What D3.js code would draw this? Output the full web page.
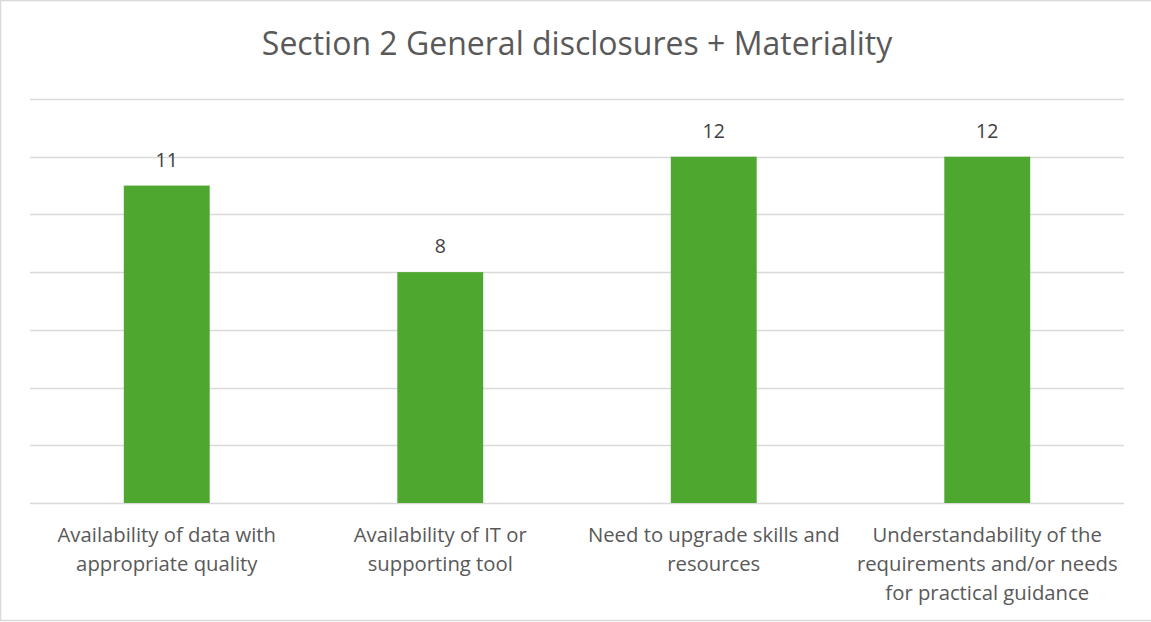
<!DOCTYPE html>
<html>
<head>
<meta charset="utf-8">
<script src="https://cdn.jsdelivr.net/npm/d3@7"></script>
<style>
  html, body { margin: 0; padding: 0; background: #fff; }
  svg { display: block; }
</style>
</head>
<body>
<svg id="chart" width="1151" height="622"></svg>
<script>
// Chart data
const title = "Section 2 General disclosures + Materiality";
const categories = [
  "Availability of data with appropriate quality",
  "Availability of IT or supporting tool",
  "Need to upgrade skills and resources",
  "Understandability of the requirements and/or needs for practical guidance"
];
const values = [11, 8, 12, 12];
const gridTicks = [0, 2, 4, 6, 8, 10, 12, 14];

const W = 1151, H = 622;
const margin = { left: 30, right: 27, top: 99, bottom: 119 };
const font = "'Open Sans', sans-serif";

const svg = d3.select("#chart");

// chart frame
svg.append("rect")
  .attr("x", 0.5).attr("y", 0.5)
  .attr("width", W + 5).attr("height", H - 2)
  .attr("fill", "#fff")
  .attr("stroke", "#d9d9d9").attr("stroke-width", 1.5);

const x = d3.scaleBand()
  .domain(categories)
  .range([margin.left, W - margin.right])
  .paddingInner(0.686)
  .paddingOuter(0.343);

const y = d3.scaleLinear()
  .domain([0, 14])
  .range([H - margin.bottom, margin.top]);

// horizontal gridlines
svg.append("g")
  .selectAll("line")
  .data(gridTicks)
  .join("line")
  .attr("x1", margin.left)
  .attr("x2", W - margin.right)
  .attr("y1", d => Math.round(y(d)) + 0.5)
  .attr("y2", d => Math.round(y(d)) + 0.5)
  .attr("stroke", "#d9d9d9")
  .attr("stroke-width", 1.5);

// bars
svg.append("g")
  .selectAll("rect")
  .data(values)
  .join("rect")
  .attr("x", (d, i) => x(categories[i]))
  .attr("width", x.bandwidth())
  .attr("y", d => y(d))
  .attr("height", d => y(0) - y(d))
  .attr("fill", "#4ea72e");

// value labels
svg.append("g")
  .selectAll("text")
  .data(values)
  .join("text")
  .attr("x", (d, i) => x(categories[i]) + x.bandwidth() / 2)
  .attr("y", d => y(d) - 19)
  .attr("text-anchor", "middle")
  .attr("font-family", font)
  .attr("font-size", 19.5)
  .attr("fill", "#404040")
  .text(d => d);

// category axis labels, wrapped to the band step
const axis = svg.append("g")
  .attr("transform", `translate(0,${y(0)})`)
  .call(d3.axisBottom(x).tickSize(0).tickPadding(0));
axis.select(".domain").remove();
axis.selectAll("text")
  .attr("font-family", font)
  .attr("font-size", 20.3)
  .attr("fill", "#595959")
  .each(function(d) {
    const t = d3.select(this);
    const words = d.split(/\s+/);
    const maxW = 268;
    t.text(null).attr("y", 0).attr("dy", null);
    let lines = [], line = [];
    let tspan = t.append("tspan");
    words.forEach(w => {
      line.push(w);
      tspan.text(line.join(" "));
      if (tspan.node().getComputedTextLength() > maxW && line.length > 1) {
        line.pop();
        lines.push(line.join(" "));
        line = [w];
        tspan.text(w);
      }
    });
    lines.push(line.join(" "));
    t.text(null);
    lines.forEach((l, i) => {
      t.append("tspan").attr("x", 0).attr("y", 39 + i * 29).text(l);
    });
  });

// title
svg.append("text")
  .attr("x", 577)
  .attr("y", 55)
  .attr("text-anchor", "middle")
  .attr("font-family", font)
  .attr("font-size", 32)
  .attr("fill", "#595959")
  .text(title);
</script>
</body>
</html>
